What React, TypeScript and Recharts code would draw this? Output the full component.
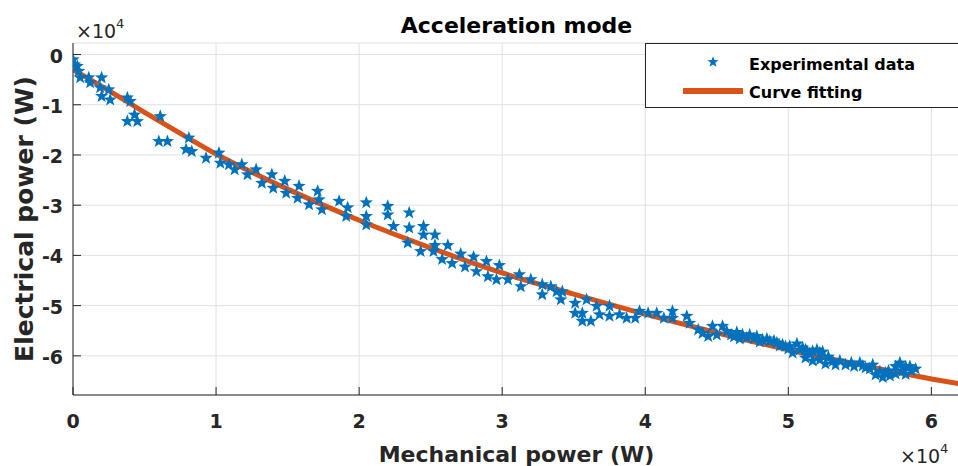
import React from "react";
import {
  ComposedChart,
  XAxis,
  YAxis,
  CartesianGrid,
  Scatter,
  Line,
  Legend,
  Label,
} from "recharts";

// all values, in units of 1e4 W (axes show "x10^4")
const experimental: [number, number][] = [
  [0.00, -0.10], [0.01, -0.20], [0.03, -0.23], [0.04, -0.33], [0.05, -0.46], [0.11, -0.46], [0.12, -0.56], [0.20, -0.46], [0.19, -0.66], [0.25, -0.70],
  [0.20, -0.83], [0.26, -0.90], [0.38, -0.86], [0.40, -0.93], [0.43, -1.20], [0.38, -1.33], [0.45, -1.33], [0.61, -1.23], [0.60, -1.73], [0.66, -1.73],
  [0.81, -1.66], [0.79, -1.89], [0.83, -1.93], [0.93, -2.06], [1.02, -1.96], [1.03, -2.16], [1.09, -2.19], [1.13, -2.29], [1.18, -2.19], [1.22, -2.39],
  [1.28, -2.29], [1.32, -2.56], [1.39, -2.39], [1.40, -2.66], [1.48, -2.52], [1.49, -2.76], [1.58, -2.62], [1.57, -2.86], [1.65, -2.99], [1.71, -2.72],
  [1.72, -2.89], [1.74, -3.09], [1.86, -2.92], [1.92, -3.05], [1.91, -3.22], [2.05, -2.95], [2.05, -3.22], [2.05, -3.39], [2.20, -3.02], [2.20, -3.19],
  [2.24, -3.42], [2.35, -3.15], [2.35, -3.45], [2.34, -3.75], [2.45, -3.42], [2.45, -3.59], [2.43, -3.92], [2.53, -3.59], [2.53, -3.80], [2.52, -3.92],
  [2.62, -3.80], [2.58, -4.08], [2.65, -4.16], [2.71, -3.97], [2.74, -4.23], [2.80, -4.03], [2.82, -4.32], [2.89, -4.12], [2.90, -4.42], [2.98, -4.20],
  [2.96, -4.48], [3.04, -4.48], [3.12, -4.38], [3.13, -4.62], [3.20, -4.48], [3.28, -4.58], [3.28, -4.78], [3.34, -4.62], [3.38, -4.72], [3.42, -4.72],
  [3.41, -4.88], [3.51, -4.95], [3.59, -4.88], [3.51, -5.15], [3.56, -5.31], [3.62, -5.31], [3.56, -5.15], [3.66, -5.01], [3.68, -5.18], [3.75, -5.01],
  [3.75, -5.21], [3.82, -5.18], [3.87, -5.25], [3.93, -5.25], [3.96, -5.11], [4.02, -5.15], [4.08, -5.15], [4.13, -5.25], [4.19, -5.25], [4.19, -5.11],
  [4.29, -5.21], [4.31, -5.35], [4.37, -5.48], [4.40, -5.55], [4.44, -5.61], [4.47, -5.41], [4.50, -5.58], [4.54, -5.41], [4.57, -5.51], [4.60, -5.58],
  [4.64, -5.53], [4.68, -5.58], [4.71, -5.64], [4.73, -5.58], [4.78, -5.61], [4.82, -5.68], [4.85, -5.66], [4.87, -5.71], [4.92, -5.74], [4.96, -5.78],
  [4.98, -5.81], [5.01, -5.81], [5.03, -5.94], [5.06, -5.76], [5.08, -5.88], [5.12, -5.88], [5.13, -5.91], [5.17, -5.91], [5.22, -5.94], [5.24, -5.92],
  [5.12, -6.04], [5.17, -6.10], [5.22, -6.08], [5.26, -6.16], [5.31, -6.11], [5.33, -6.18], [5.40, -6.18], [5.46, -6.21], [5.50, -6.14], [5.54, -6.24],
  [5.59, -6.18], [5.61, -6.38], [5.64, -6.31], [5.66, -6.43], [5.68, -6.34], [5.71, -6.40], [5.75, -6.21], [5.78, -6.14], [5.80, -6.24], [5.82, -6.21],
  [5.85, -6.21], [5.89, -6.26], [5.75, -6.36], [5.80, -6.30], [5.82, -6.37],
  [4.62, -5.62], [4.66, -5.66], [4.76, -5.66], [4.80, -5.72], [4.90, -5.70], [4.94, -5.80], [5.00, -5.86], [5.10, -5.84], [5.15, -5.96], [5.20, -5.88],
  [5.28, -6.02], [5.36, -6.10], [5.44, -6.14], [5.52, -6.20], [5.57, -6.26], [5.70, -6.30], [5.86, -6.30],
];

const fitMech = [0, 0.25, 0.5, 0.75, 1, 1.5, 2, 2.5, 3, 3.5, 4, 4.5, 5, 5.5, 6, 6.2];
const fitElec = [-0.30, -0.72, -1.15, -1.57, -1.98, -2.68, -3.30, -3.85, -4.35, -4.77, -5.17, -5.54, -5.88, -6.18, -6.46, -6.56];

const xTicks = [0, 1, 2, 3, 4, 5, 6];
const yTicks = [-6, -5, -4, -3, -2, -1, 0];
const xDomain: [number, number] = [0, 6.2];
const yDomain: [number, number] = [-6.78, 0.23];

const expData = experimental.map(([x, y]) => ({ x, y }));
const fitData = fitMech.map((x, i) => ({ x, y: fitElec[i] }));

const BLUE = "#0072BD";
const ORANGE = "#D95319";
const INK = "#262626";
const FONT = "'DejaVu Sans', sans-serif";
const TICK_LEN = 8;

function starPath(cx: number, cy: number, R: number, r: number) {
  let d = "";
  for (let i = 0; i < 10; i++) {
    const rad = i % 2 === 0 ? R : r;
    const a = -Math.PI / 2 + (i * Math.PI) / 5;
    d += (i === 0 ? "M" : "L") + (cx + rad * Math.cos(a)).toFixed(2) + "," + (cy + rad * Math.sin(a)).toFixed(2);
  }
  return d + "Z";
}

const StarShape = (p: any) => {
  if (p.cx == null || p.cy == null) return <g />;
  return <path d={starPath(p.cx, p.cy, 7, 2.9)} fill={BLUE} />;
};

const BottomTick = ({ x, y, payload }: any) => (
  <g>
    <line x1={x} y1={y} x2={x} y2={y - TICK_LEN} stroke={INK} />
    <text x={x} y={y + 33} textAnchor="middle" fontFamily={FONT} fontWeight="bold" fontSize={19} fill={INK}>
      {payload.value}
    </text>
  </g>
);

const TopTick = ({ x, y }: any) => <line x1={x} y1={y} x2={x} y2={y + TICK_LEN} stroke={INK} />;

const LeftTick = ({ x, y, payload }: any) => (
  <g>
    <line x1={x} y1={y} x2={x + TICK_LEN} y2={y} stroke={INK} />
    <text x={x - 10} y={y + 8} textAnchor="end" fontFamily={FONT} fontWeight="bold" fontSize={19} fill={INK}>
      {payload.value}
    </text>
  </g>
);

const RightTick = ({ x, y }: any) => <line x1={x} y1={y} x2={x - TICK_LEN} y2={y} stroke={INK} />;

const Exponent = ({ x, y }: { x: number; y: number }) => (
  <text x={x} y={y} fontFamily={FONT} fontSize={19} fill={INK}>
    ×10
    <tspan dy={-10} fontSize={13}>4</tspan>
  </text>
);

const XTitle = ({ viewBox }: any) => (
  <g>
    <text x={viewBox.x + viewBox.width / 2} y={viewBox.y + 67} textAnchor="middle" fontFamily={FONT} fontWeight="bold" fontSize={22} fill={INK}>
      Mechanical power (W)
    </text>
    <Exponent x={900} y={viewBox.y + 68} />
  </g>
);

// y-axis title, plus the chart title and the top-left exponent which sit above the plot
const YTitle = ({ viewBox }: any) => (
  <g>
    <text
      transform={`translate(33, ${viewBox.y + viewBox.height / 2}) rotate(-90)`}
      textAnchor="middle"
      fontFamily={FONT}
      fontWeight="bold"
      fontSize={25}
      fill={INK}
    >
      Electrical power (W)
    </text>
    <text x={516.5} y={33} textAnchor="middle" fontFamily={FONT} fontWeight="bold" fontSize={22} fill="#000">
      Acceleration mode
    </text>
    <Exponent x={76} y={38} />
  </g>
);

const LegendBox = () => (
  <svg width={320} height={66} style={{ display: "block" }}>
    <rect x={0.5} y={0.5} width={330} height={64} fill="#fff" stroke={INK} />
    <path d={starPath(68, 19, 5.8, 2.4)} fill={BLUE} />
    <text x={104} y={27} fontFamily={FONT} fontWeight="bold" fontSize={16} fill="#000">
      Experimental data
    </text>
    <line x1={38} x2={98} y1={48} y2={48} stroke={ORANGE} strokeWidth={6} />
    <text x={104} y={55} fontFamily={FONT} fontWeight="bold" fontSize={16} fill="#000">
      Curve fitting
    </text>
  </svg>
);

export default function App() {
  return (
    <div style={{ position: "absolute", left: 0, top: 0, width: 958, height: 466, overflow: "hidden", background: "#fff" }}>
      <ComposedChart width={962} height={466} margin={{ top: 43, right: 2, bottom: 0, left: 0 }}>
        <CartesianGrid stroke="#e1e1e1" />
        <XAxis
          type="number"
          dataKey="x"
          domain={xDomain}
          ticks={xTicks}
          interval={0}
          allowDataOverflow
          height={71}
          tickSize={0}
          tickMargin={0}
          tickLine={false}
          axisLine={{ stroke: INK }}
          tick={BottomTick}
        >
          <Label content={XTitle} />
        </XAxis>
        <XAxis
          xAxisId="top"
          orientation="top"
          type="number"
          domain={xDomain}
          ticks={xTicks}
          interval={0}
          allowDataOverflow
          height={0}
          tickSize={0}
          tickMargin={0}
          tickLine={false}
          axisLine={{ stroke: INK }}
          tick={TopTick}
        />
        <YAxis
          type="number"
          dataKey="y"
          domain={yDomain}
          ticks={yTicks}
          interval={0}
          allowDataOverflow
          width={73}
          tickSize={0}
          tickMargin={0}
          tickLine={false}
          axisLine={{ stroke: INK }}
          tick={LeftTick}
        >
          <Label content={YTitle} />
        </YAxis>
        <YAxis
          yAxisId="right"
          orientation="right"
          type="number"
          domain={yDomain}
          ticks={yTicks}
          interval={0}
          allowDataOverflow
          width={0}
          tickSize={0}
          tickMargin={0}
          tickLine={false}
          axisLine={{ stroke: INK }}
          tick={RightTick}
        />
        <Legend
          layout="vertical"
          align="center"
          verticalAlign="middle"
          content={LegendBox}
          wrapperStyle={{ left: 645, top: 43, width: 320, height: 66 }}
        />
        <Scatter
          name="Experimental data"
          data={expData}
          dataKey="y"
          fill={BLUE}
          shape={StarShape}
          isAnimationActive={false}
        />
        <Line
          name="Curve fitting"
          data={fitData}
          dataKey="y"
          type="monotone"
          stroke={ORANGE}
          strokeWidth={5}
          dot={false}
          activeDot={false}
          isAnimationActive={false}
        />
      </ComposedChart>
    </div>
  );
}
